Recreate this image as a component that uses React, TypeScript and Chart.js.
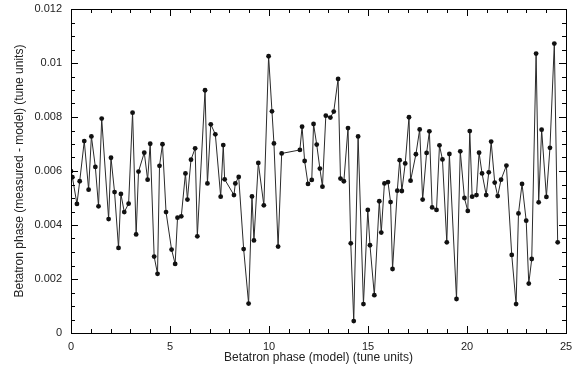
import React, { useEffect, useRef } from "react";
import { Chart, registerables } from "chart.js";
Chart.register(...registerables);

const phaseModel: number[] = [
  0.0, 0.07, 0.3, 0.44, 0.67, 0.89, 1.03, 1.23, 1.39, 1.55, 1.9, 2.02, 2.2, 2.4, 2.52, 2.69, 2.91, 3.11, 3.29, 3.41,
  3.7, 3.87, 4.0, 4.2, 4.37, 4.47, 4.62, 4.8, 5.08, 5.26, 5.38, 5.57, 5.78, 5.88, 6.06, 6.27, 6.38, 6.77, 6.89, 7.06,
  7.29, 7.56, 7.69, 7.76, 8.23, 8.3, 8.47, 8.72, 8.97, 9.14, 9.24, 9.46, 9.74, 9.98, 10.15, 10.25, 10.46, 10.64, 11.56, 11.67,
  11.8, 11.97, 12.16, 12.25, 12.41, 12.57, 12.7, 12.87, 13.1, 13.27, 13.49, 13.61, 13.78, 13.99, 14.13, 14.28, 14.5, 14.77, 14.99, 15.1,
  15.32, 15.57, 15.67, 15.83, 16.01, 16.14, 16.24, 16.48, 16.6, 16.71, 16.88, 17.07, 17.15, 17.42, 17.61, 17.76, 17.96, 18.1, 18.24, 18.46,
  18.61, 18.76, 18.98, 19.11, 19.47, 19.66, 19.87, 20.04, 20.14, 20.26, 20.48, 20.61, 20.76, 20.97, 21.1, 21.22, 21.4, 21.55, 21.72, 21.99,
  22.26, 22.48, 22.6, 22.78, 22.99, 23.12, 23.27, 23.49, 23.62, 23.77, 24.01, 24.19, 24.41, 24.58,
];

// measured - model, in units of 1e-3 tune units
const phaseDiffMilli: number[] = [
  5.99, 5.77, 4.78, 5.62, 7.11, 5.31, 7.28, 6.15, 4.69, 7.94, 4.22, 6.49, 5.22, 3.15, 5.15, 4.48, 4.79, 8.16, 3.65, 5.98,
  6.68, 5.68, 7.01, 2.83, 2.19, 6.19, 6.99, 4.48, 3.09, 2.56, 4.27, 4.32, 5.91, 4.94, 6.42, 6.84, 3.58, 8.99, 5.54, 7.73,
  7.36, 5.05, 6.96, 5.69, 5.11, 5.54, 5.78, 3.11, 1.09, 5.06, 3.43, 6.3, 4.73, 10.25, 8.21, 7.02, 3.2, 6.65, 6.78, 7.64,
  6.37, 5.52, 5.67, 7.74, 6.98, 6.09, 5.42, 8.05, 7.98, 8.2, 9.41, 5.72, 5.62, 7.59, 3.32, 0.44, 7.28, 1.07, 4.56, 3.25,
  1.4, 4.88, 3.72, 5.54, 5.59, 4.85, 2.37, 5.27, 6.4, 5.26, 6.28, 7.99, 5.64, 6.62, 7.54, 4.94, 6.67, 7.47, 4.65, 4.56,
  6.95, 6.43, 3.36, 6.63, 1.26, 6.73, 5.0, 4.52, 7.48, 5.05, 5.11, 6.68, 5.91, 5.11, 5.95, 7.09, 5.57, 5.07, 5.68, 6.2,
  2.89, 1.07, 4.43, 5.52, 4.16, 1.83, 2.74, 10.35, 4.84, 7.53, 5.04, 6.86, 10.72, 3.36,
];

const xTitle = "Betatron phase (model) (tune units)";
const yTitle = "Betatron phase (measured - model) (tune units)";

const FONT = "'Liberation Sans', Arial, Helvetica, sans-serif";

const boxTicks = {
  id: "boxTicks",
  afterDraw(chart: any) {
    const { ctx, chartArea: a, scales } = chart;
    const xs = scales.x;
    const ys = scales.y;
    ctx.save();
    ctx.strokeStyle = "#000";
    ctx.lineWidth = 1;
    ctx.strokeRect(Math.round(a.left) + 0.5, Math.round(a.top) + 0.5, Math.round(a.right - a.left), Math.round(a.bottom - a.top));
    ctx.beginPath();
    for (let v = 0; v <= 25; v += 1) {
      const px = Math.round(xs.getPixelForValue(v)) + 0.5;
      const len = v % 5 === 0 ? 7 : 4;
      ctx.moveTo(px, a.bottom);
      ctx.lineTo(px, a.bottom - len);
      ctx.moveTo(px, a.top);
      ctx.lineTo(px, a.top + len);
    }
    for (let i = 0; i <= 24; i++) {
      const v = i * 0.0005;
      const py = Math.round(ys.getPixelForValue(v)) + 0.5;
      const len = i % 4 === 0 ? 7 : 4;
      ctx.moveTo(a.left, py);
      ctx.lineTo(a.left + len, py);
      ctx.moveTo(a.right, py);
      ctx.lineTo(a.right - len, py);
    }
    ctx.stroke();
    ctx.restore();
  },
};

export default function App() {
  const ref = useRef<HTMLCanvasElement | null>(null);
  useEffect(() => {
    if (!ref.current) return;
    const data = phaseModel.map((x, i) => ({ x, y: phaseDiffMilli[i] / 1000 }));
    const chart = new Chart(ref.current, {
      type: "scatter",
      data: {
        datasets: [
          {
            data,
            showLine: true,
            borderColor: "#2a2a2a",
            borderWidth: 1,
            pointRadius: 2.4,
            pointBackgroundColor: "#111",
            pointBorderColor: "#111",
            pointBorderWidth: 0,
          },
        ],
      },
      options: {
        responsive: false,
        animation: false,
        layout: { padding: { left: 0, right: 12, top: 9, bottom: 0 } },
        plugins: { legend: { display: false }, tooltip: { enabled: false } },
        scales: {
          x: {
            type: "linear",
            min: 0,
            max: 25,
            grid: { display: false, drawTicks: false },
            border: { display: false },
            ticks: { stepSize: 5, padding: 7, color: "#222", font: { family: FONT, size: 11 }, maxRotation: 0 },
            title: { display: true, text: xTitle, color: "#222", font: { family: FONT, size: 12 }, padding: { top: 1, bottom: 10 } },
            afterFit: (s: any) => { s.height = 42; s.paddingLeft = 0; s.paddingRight = 0; },
          },
          y: {
            type: "linear",
            min: 0,
            max: 0.012,
            grid: { display: false, drawTicks: false },
            border: { display: false },
            ticks: {
              stepSize: 0.002,
              padding: 9,
              color: "#222",
              font: { family: FONT, size: 11 },
              callback: (v: any) => String(Number(Number(v).toFixed(3))),
            },
            title: { display: true, text: yTitle, color: "#222", font: { family: FONT, size: 12 }, padding: { top: 12, bottom: 4 } },
            afterFit: (s: any) => { s.width = 71; s.paddingTop = 0; s.paddingBottom = 0; },
          },
        },
      },
      plugins: [boxTicks],
    });
    return () => chart.destroy();
  }, []);
  return (
    <div style={{ position: "absolute", left: 0, top: 0, width: 578, height: 375, background: "#fff" }}>
      <canvas ref={ref} width={578} height={375} />
    </div>
  );
}
